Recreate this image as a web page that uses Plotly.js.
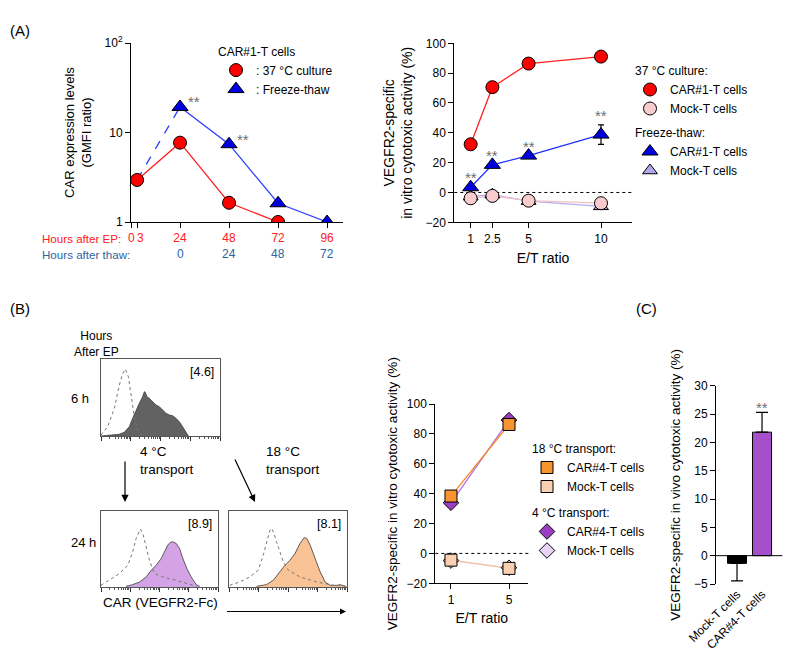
<!DOCTYPE html>
<html><head><meta charset="utf-8">
<script src="https://cdn.plot.ly/plotly-3.0.1.min.js"></script>
<style>html,body{margin:0;padding:0;background:#fff}</style>
</head><body><div id="chart" style="width:795px;height:671px"></div>
<script>
// ---------- Panel A (left): CAR expression levels ----------
const hoursEP = [0, 3, 24, 48, 72, 96];
const cultureHours = [3, 24, 48, 72];
const cultureGMFI = [2.95, 7.7, 1.64, 1.0];
const thawHours = [24, 48, 72, 96];
const thawLabels = ['0', '24', '48', '72'];
const freezeGMFI = [19.3, 7.4, 1.62, 1.0];
const freezeSig = ['**', '**', '', ''];
// ---------- Panel A (right): in vitro cytotoxicity ----------
const etA = [1, 2.5, 5, 10];
const car37 = [32.3, 70.6, 86.4, 91.1];
const mock37 = [-3.9, -2.3, -5.5, -7.2];
const carFT = [3.5, 18.5, 24.7, 38.8];
const carFTerr = [0, 0, 0, 6.5];
const mockFT = [-2.8, -1.5, -5.8, -9.3];
const carFTsig = ['**', '**', '**', '**'];
// ---------- Panel B (right): transport ----------
const etB = [1, 5];
const car18 = [38.4, 86.3];
const mock18 = [-4.5, -10.0];
const mock18err = [0, 2.5];
const car4 = [33.9, 89.2];
const mock4 = [-4.8, -9.6];
// ---------- Panel C: in vivo ----------
const cellsC = ['Mock-T cells', 'CAR#4-T cells'];
const vivoC = [-1.35, 21.8];
const vivoErrUp = [0, 3.5];
const vivoErrDown = [3.1, 0];
const vivoSig = ['', '**'];
// ---------- Panel B histograms (x: % of log scale width, y: % of max) ----------
const h6CtrlX = [0, 5.6, 11.2, 15.4, 18.2, 20.4, 23, 25.2, 28, 30.8, 33.6, 36.4];
const h6CtrlY = [1.3, 12, 36, 66, 81, 87, 77, 53, 25, 7.8, 1.3, 0];
const h6CarX = [0, 8.4, 15.4, 19.6, 23.8, 26.6, 29.4, 32.2, 35, 36.4, 37.2, 38.6, 40.6, 43.4, 46.2, 49, 51.8, 54.6, 57.4, 60.2, 63, 65.8, 68.6, 71.4, 73.4];
const h6CarY = [0, 1.3, 2.2, 4.8, 12.1, 22.9, 33.8, 42.4, 51.1, 57.6, 56.7, 51.1, 48.9, 44.6, 40.3, 38.1, 33.8, 29.4, 27.3, 26.4, 22.9, 18.6, 12.1, 4.8, 0];
const h4CtrlX = [0, 7.1, 15.7, 22.9, 27.1, 30, 32.9, 33.7, 35.7, 38.6, 41.4, 45.7, 52.9, 64.3, 72.9, 81.4];
const h4CtrlY = [2.2, 8.8, 17.6, 28.6, 46.3, 63.9, 74.9, 76.2, 70.5, 50.7, 35.2, 17.6, 13.2, 8.8, 4.4, 0.9];
const h4CarX = [21.4, 27.1, 32.9, 38.6, 42.9, 47.1, 51.4, 54.3, 57.1, 59.1, 61.4, 64.3, 67.1, 70, 73.4, 77.1, 81.4, 84.3];
const h4CarY = [0.9, 3.1, 6.6, 13.2, 22, 28.6, 37.4, 46.3, 55.1, 58.6, 59.5, 57.3, 50.7, 37.4, 24.2, 13.2, 3.1, 0.9];
const h18CtrlX = [0.6, 9.1, 17.6, 24.7, 29, 31.8, 34.7, 36.1, 38.1, 40.3, 43.2, 46, 50.3, 60.2, 74.4, 88.6, 100];
const h18CtrlY = [2.2, 6.6, 13.2, 22, 41.9, 59.5, 74.9, 77.1, 70.5, 59.5, 46.3, 33, 22, 13.2, 6.6, 2.2, 0.9];
const h18CarX = [23.3, 31.8, 37.5, 43.2, 47.4, 51.7, 55.9, 60.2, 63.6, 65.9, 68.8, 73, 77.3, 81.5, 85.8, 91.5, 94.3, 98.6];
const h18CarY = [0.9, 3.1, 8.8, 19.8, 28.6, 35.2, 44, 57.3, 64.8, 63.9, 55.1, 37.4, 19.8, 6.6, 2.2, 2.2, 3.1, 0.9];
const histLabels = ['[4.6]', '[8.9]', '[8.1]'];

// ---------- helpers ----------
const W = 795, H = 671;
const px = p => p / W;
const py = p => 1 - p / H;
const FONT = 'Liberation Sans, Arial, sans-serif';
const SIG = '#6e6e6e';
const RED = '#ff2020', THAWBLUE = '#2e64a0';

const traces = [];
// A left
traces.push({x: [cultureHours[0], thawHours[0]], y: [cultureGMFI[0], freezeGMFI[0]], mode: 'lines', line: {color: '#3040ff', width: 1.3, dash: 'dash'}, xaxis: 'x', yaxis: 'y', showlegend: false});
traces.push({x: cultureHours, y: cultureGMFI, mode: 'lines', line: {color: RED, width: 1.3}, xaxis: 'x', yaxis: 'y', showlegend: false});
traces.push({x: thawHours, y: freezeGMFI, mode: 'lines', line: {color: '#3040ff', width: 1.3}, xaxis: 'x', yaxis: 'y', showlegend: false});
traces.push({x: cultureHours, y: cultureGMFI, mode: 'markers', name: ': 37 °C culture', marker: {symbol: 'circle', size: 13, color: '#ff0000', line: {color: '#000', width: 1}}, xaxis: 'x', yaxis: 'y', legend: 'legend', legendrank: 1});
traces.push({x: thawHours, y: freezeGMFI, mode: 'markers', name: ': Freeze-thaw', marker: {symbol: 'triangle-up', size: 14, color: '#0000e0', line: {color: '#000', width: 1}}, xaxis: 'x', yaxis: 'y', legend: 'legend', legendrank: 2});

// A right
traces.push({x: etA, y: mockFT, mode: 'lines', line: {color: '#b4acf0', width: 1.3}, xaxis: 'x2', yaxis: 'y2', showlegend: false});
traces.push({x: etA, y: mock37, mode: 'lines', line: {color: '#f5c0c4', width: 1.3}, xaxis: 'x2', yaxis: 'y2', showlegend: false});
traces.push({x: etA, y: car37, mode: 'lines', line: {color: RED, width: 1.3}, xaxis: 'x2', yaxis: 'y2', showlegend: false});
traces.push({x: etA, y: carFT, mode: 'lines', line: {color: '#2030ff', width: 1.3}, xaxis: 'x2', yaxis: 'y2', showlegend: false});
traces.push({x: etA, y: carFT, mode: 'markers', marker: {size: 1, color: 'rgba(0,0,0,0)'}, error_y: {type: 'data', array: carFTerr, color: '#000', thickness: 1.2, width: 3}, xaxis: 'x2', yaxis: 'y2', showlegend: false});
traces.push({x: etA, y: mockFT, mode: 'markers', name: 'Mock-T cells', legendgrouptitle: {text: 'Freeze-thaw:'}, marker: {symbol: 'triangle-up', size: 13, color: '#b0a8e8', line: {color: '#000', width: 1}}, xaxis: 'x2', yaxis: 'y2', legend: 'legend4', legendgroup: 'ft', legendrank: 2});
traces.push({x: etA, y: mock37, mode: 'markers', name: 'Mock-T cells', legendgrouptitle: {text: '37 °C culture:'}, marker: {symbol: 'circle', size: 13, color: '#f8cccc', line: {color: '#000', width: 1}}, xaxis: 'x2', yaxis: 'y2', legend: 'legend2', legendgroup: 'c37', legendrank: 2});
traces.push({x: etA, y: car37, mode: 'markers', name: 'CAR#1-T cells', legendgrouptitle: {text: '37 °C culture:'}, marker: {symbol: 'circle', size: 13, color: '#ff0000', line: {color: '#000', width: 1}}, xaxis: 'x2', yaxis: 'y2', legend: 'legend2', legendgroup: 'c37', legendrank: 1});
traces.push({x: etA, y: carFT, mode: 'markers', name: 'CAR#1-T cells', legendgrouptitle: {text: 'Freeze-thaw:'}, marker: {symbol: 'triangle-up', size: 14, color: '#0000e0', line: {color: '#000', width: 1}}, xaxis: 'x2', yaxis: 'y2', legend: 'legend4', legendgroup: 'ft', legendrank: 1});

// B right
traces.push({x: etB, y: mock4, mode: 'lines', line: {color: '#e6d0f0', width: 1.3}, xaxis: 'x3', yaxis: 'y3', showlegend: false});
traces.push({x: etB, y: mock18, mode: 'lines', line: {color: '#f7c49c', width: 1.3}, xaxis: 'x3', yaxis: 'y3', showlegend: false});
traces.push({x: etB, y: car4, mode: 'lines', line: {color: '#b56fe8', width: 1.3}, xaxis: 'x3', yaxis: 'y3', showlegend: false});
traces.push({x: etB, y: car18, mode: 'lines', line: {color: '#f58a2a', width: 1.3}, xaxis: 'x3', yaxis: 'y3', showlegend: false});
traces.push({x: etB, y: mock18, mode: 'markers', marker: {size: 1, color: 'rgba(0,0,0,0)'}, error_y: {type: 'data', array: mock18err, arrayminus: [0, 0], symmetric: false, color: '#000', thickness: 1, width: 2}, xaxis: 'x3', yaxis: 'y3', showlegend: false});
traces.push({x: etB, y: mock4, mode: 'markers', name: 'Mock-T cells', legendgrouptitle: {text: '4 °C transport:'}, marker: {symbol: 'diamond', size: 12, color: '#e8d4f2', line: {color: '#000', width: 1}}, xaxis: 'x3', yaxis: 'y3', legend: 'legend5', legendgroup: 't4', legendrank: 2});
traces.push({x: etB, y: car4, mode: 'markers', name: 'CAR#4-T cells', legendgrouptitle: {text: '4 °C transport:'}, marker: {symbol: 'diamond', size: 12, color: '#9a3fc4', line: {color: '#000', width: 1}}, xaxis: 'x3', yaxis: 'y3', legend: 'legend5', legendgroup: 't4', legendrank: 1});
traces.push({x: etB, y: mock18, mode: 'markers', name: 'Mock-T cells', legendgrouptitle: {text: '18 °C transport:'}, marker: {symbol: 'square', size: 12, color: '#fbd0b0', line: {color: '#000', width: 1}}, xaxis: 'x3', yaxis: 'y3', legend: 'legend3', legendgroup: 't18', legendrank: 2});
traces.push({x: etB, y: car18, mode: 'markers', name: 'CAR#4-T cells', legendgrouptitle: {text: '18 °C transport:'}, marker: {symbol: 'square', size: 12, color: '#f7942f', line: {color: '#000', width: 1}}, xaxis: 'x3', yaxis: 'y3', legend: 'legend3', legendgroup: 't18', legendrank: 1});

// C
traces.push({type: 'bar', x: cellsC, y: vivoC, width: 0.76, marker: {color: ['#000000', '#a54fcb'], line: {color: '#000', width: 1}},
  error_y: {type: 'data', array: vivoErrUp, arrayminus: vivoErrDown, symmetric: false, color: '#000', thickness: 1.2, width: 6},
  xaxis: 'x4', yaxis: 'y4', showlegend: false});

// Histograms
function hist(cx, cy, fx, fy, fill, ax) {
  traces.push({x: fx, y: fy, mode: 'lines', fill: 'tozeroy', fillcolor: fill, line: {color: '#3a3a3a', width: 0.8}, xaxis: 'x' + ax, yaxis: 'y' + ax, showlegend: false});
  traces.push({x: cx, y: cy, mode: 'lines', line: {color: '#777', width: 1, dash: 'dot'}, xaxis: 'x' + ax, yaxis: 'y' + ax, showlegend: false});
}
hist(h6CtrlX, h6CtrlY, h6CarX, h6CarY, '#626262', 5);
hist(h4CtrlX, h4CtrlY, h4CarX, h4CarY, '#d4a3e6', 6);
hist(h18CtrlX, h18CtrlY, h18CarX, h18CarY, '#fac395', 7);

const axBase = {showline: true, linecolor: '#000', linewidth: 1, ticks: 'outside', ticklen: 5, tickwidth: 1, tickcolor: '#000', showgrid: false, zeroline: false, tickfont: {size: 12, color: '#000'}, tickangle: 0, fixedrange: true};
const majorT = [0, 25, 50, 75, 100];
const minorT = [];
for (let d = 0; d < 4; d++) for (let k = 2; k < 10; k++) minorT.push(25 * (d + Math.log10(k)));
const histX = (dom, anchor) => ({domain: dom, anchor: anchor, range: [0, 100], showline: true, mirror: true, linecolor: '#555', linewidth: 1, showgrid: false, zeroline: false, showticklabels: false, tickmode: 'array', tickvals: majorT, ticks: 'outside', ticklen: 4, tickcolor: '#333', minor: {tickmode: 'array', tickvals: minorT, ticks: 'outside', ticklen: 2, tickcolor: '#555'}});
const histY = (dom, anchor) => ({domain: dom, anchor: anchor, range: [0, 100], showline: true, mirror: true, linecolor: '#555', linewidth: 1, showgrid: false, zeroline: false, showticklabels: false, ticks: ''});
const legBase = {xanchor: 'left', yanchor: 'top', bgcolor: 'rgba(0,0,0,0)', font: {size: 12}, grouptitlefont: {size: 12}, itemwidth: 30, tracegroupgap: 0, traceorder: 'normal'};
const TITLE_FONT = {size: 13.5};

const layout = {
  width: W, height: H, margin: {l: 0, r: 0, t: 0, b: 0}, paper_bgcolor: '#fff', plot_bgcolor: 'rgba(0,0,0,0)',
  font: {family: FONT, size: 12, color: '#000'}, hovermode: false,
  xaxis: Object.assign({}, axBase, {domain: [px(131), px(343)], anchor: 'y', range: [0, 103.8], tickmode: 'array',
    tickvals: hoursEP.slice(2), ticktext: hoursEP.slice(2).map(String), tickfont: {size: 12, color: RED},
    minor: {tickmode: 'array', tickvals: hoursEP.slice(0, 2), ticks: 'outside', ticklen: 5, tickcolor: '#000'}}),
  yaxis: Object.assign({}, axBase, {domain: [py(222), py(43)], anchor: 'x', type: 'log', range: [0, 2], tickmode: 'array', tickvals: [1, 10, 100], ticktext: ['1', '10', '10<sup>2</sup>'],
    title: {text: 'CAR expression levels<br>(GMFI ratio)', font: {size: 13}, standoff: 10}}),
  xaxis2: Object.assign({}, axBase, {domain: [px(454.3), px(631.7)], anchor: 'y2', range: [-0.13, 12.12], tickmode: 'array', tickvals: etA, title: {text: 'E/T ratio', font: {size: 14}, standoff: 8}}),
  yaxis2: Object.assign({}, axBase, {domain: [py(222.3), py(43.3)], anchor: 'x2', range: [-20, 100], dtick: 20, title: {text: 'VEGFR2-specific<br>in vitro cytotoxic activity (%)', font: {size: 14}, standoff: 9}}),
  xaxis3: Object.assign({}, axBase, {domain: [px(435.3), px(528.3)], anchor: 'y3', range: [-0.08, 6.33], tickmode: 'array', tickvals: etB, title: {text: 'E/T ratio', font: {size: 14}, standoff: 7}}),
  yaxis3: Object.assign({}, axBase, {domain: [py(583.3), py(404)], anchor: 'x3', range: [-20, 100], dtick: 20, title: {text: 'VEGFR2-specific in vitro cytotoxic activity (%)', font: TITLE_FONT, standoff: 5}}),
  xaxis4: Object.assign({}, axBase, {domain: [px(716), px(782.3)], anchor: 'y4', range: [-0.84, 1.81], showline: false, ticks: '', tickangle: -45}),
  yaxis4: Object.assign({}, axBase, {domain: [py(584), py(385.7)], anchor: 'x4', range: [-5, 30], dtick: 5, title: {text: 'VEGFR2-specific in vivo cytotoxic activity (%)', font: TITLE_FONT, standoff: 10}}),
  xaxis5: histX([px(101), px(220)], 'y5'), yaxis5: histY([py(436), py(359)], 'x5'),
  xaxis6: histX([px(101), px(218)], 'y6'), yaxis6: histY([py(587), py(511)], 'x6'),
  xaxis7: histX([px(229), px(347)], 'y7'), yaxis7: histY([py(587), py(511)], 'x7'),
  legend: Object.assign({}, legBase, {x: px(216), y: py(40), title: {text: 'CAR#1-T cells', font: {size: 12}}}),
  legend2: Object.assign({}, legBase, {x: px(630), y: py(56)}),
  legend4: Object.assign({}, legBase, {x: px(630), y: py(118)}),
  legend3: Object.assign({}, legBase, {x: px(527), y: py(434)}),
  legend5: Object.assign({}, legBase, {x: px(527), y: py(498)}),
  shapes: [
    {type: 'line', xref: 'x2 domain', yref: 'y2', x0: 0, x1: 1, y0: 0, y1: 0, line: {color: '#000', width: 1, dash: 'dot'}, layer: 'below'},
    {type: 'line', xref: 'x3 domain', yref: 'y3', x0: 0, x1: 1, y0: 0, y1: 0, line: {color: '#000', width: 1, dash: 'dot'}, layer: 'below'},
    {type: 'line', xref: 'x4 domain', yref: 'y4', x0: 0, x1: 1, y0: 0, y1: 0, line: {color: '#000', width: 1}},
    {type: 'line', xref: 'paper', yref: 'paper', x0: px(227), x1: px(345), y0: py(611.5), y1: py(611.5), line: {color: '#000', width: 1}}
  ],
  annotations: []
};

const A = layout.annotations;
const txt = (t, x, y, opts) => A.push(Object.assign({text: t, x: px(x), y: py(y), xref: 'paper', yref: 'paper', showarrow: false, font: {size: 12}}, opts || {}));
txt('(A)', 8, 20, {xanchor: 'left', font: {size: 15}});
txt('(B)', 8, 308, {xanchor: 'left', font: {size: 15}});
txt('(C)', 659, 308, {font: {size: 15}});
txt('Hours after EP:', 40, 238, {xanchor: 'left', font: {size: 11.6, color: RED}});
txt('Hours after thaw:', 40, 254, {xanchor: 'left', font: {size: 11.6, color: THAWBLUE}});
// early EP tick labels (0 and 3) spread slightly apart as in the reference
A.push({text: String(hoursEP[0]), x: hoursEP[0], xref: 'x', y: py(238), yref: 'paper', showarrow: false, xshift: 0, font: {size: 12, color: RED}});
A.push({text: String(hoursEP[1]), x: hoursEP[1], xref: 'x', y: py(238), yref: 'paper', showarrow: false, xshift: 3, font: {size: 12, color: RED}});
thawHours.forEach((h, i) => A.push({text: thawLabels[i], x: h, xref: 'x', y: py(254), yref: 'paper', showarrow: false, font: {size: 12, color: THAWBLUE}}));
// significance marks
freezeSig.forEach((s, i) => { if (s) A.push({text: s, x: thawHours[i], y: Math.log10(freezeGMFI[i]), xref: 'x', yref: 'y', xanchor: 'left', xshift: 6, yshift: 5, showarrow: false, font: {size: 15, color: SIG}}); });
carFTsig.forEach((s, i) => { if (s) A.push({text: s, x: etA[i], y: carFT[i] + carFTerr[i], xref: 'x2', yref: 'y2', yshift: 9.5, showarrow: false, font: {size: 15, color: SIG}}); });
vivoSig.forEach((s, i) => { if (s) A.push({text: s, x: cellsC[i], y: vivoC[i] + vivoErrUp[i], xref: 'x4', yref: 'y4', yshift: 5, showarrow: false, font: {size: 15, color: SIG}}); });
txt('Hours<br>After EP', 72, 344, {font: {size: 12}});
txt('6 h', 69, 398, {font: {size: 13}});
txt('24 h', 69, 552, {font: {size: 13}});
txt('4 °C<br>transport', 138, 479, {xanchor: 'left', align: 'left', font: {size: 13.5}});
txt('18 °C<br>transport', 264, 479, {xanchor: 'left', align: 'left', font: {size: 13.5}});
txt('CAR (VEGFR2-Fc)', 101, 611.5, {xanchor: 'left', font: {size: 13.5}});
[5, 6, 7].forEach((a, i) => A.push({text: histLabels[i], xref: 'x' + a + ' domain', yref: 'y' + a + ' domain', x: 0.97, y: 0.95, xanchor: 'right', yanchor: 'top', showarrow: false, font: {size: 12.5}}));
// arrows
const arrow = (x0, y0, x1, y1, w) => A.push({x: px(x1), y: py(y1), xref: 'paper', yref: 'paper', ax: px(x0), ay: py(y0), axref: 'paper', ayref: 'paper', showarrow: true, arrowhead: 2, arrowsize: 1.2, arrowwidth: w, arrowcolor: '#000'});
arrow(125, 453, 125, 502, 1.2);
arrow(232, 453, 255, 502, 1.2);
arrow(330, 611.5, 346, 611.5, 1);

Plotly.newPlot('chart', traces, layout, {staticPlot: true});
</script></body></html>
